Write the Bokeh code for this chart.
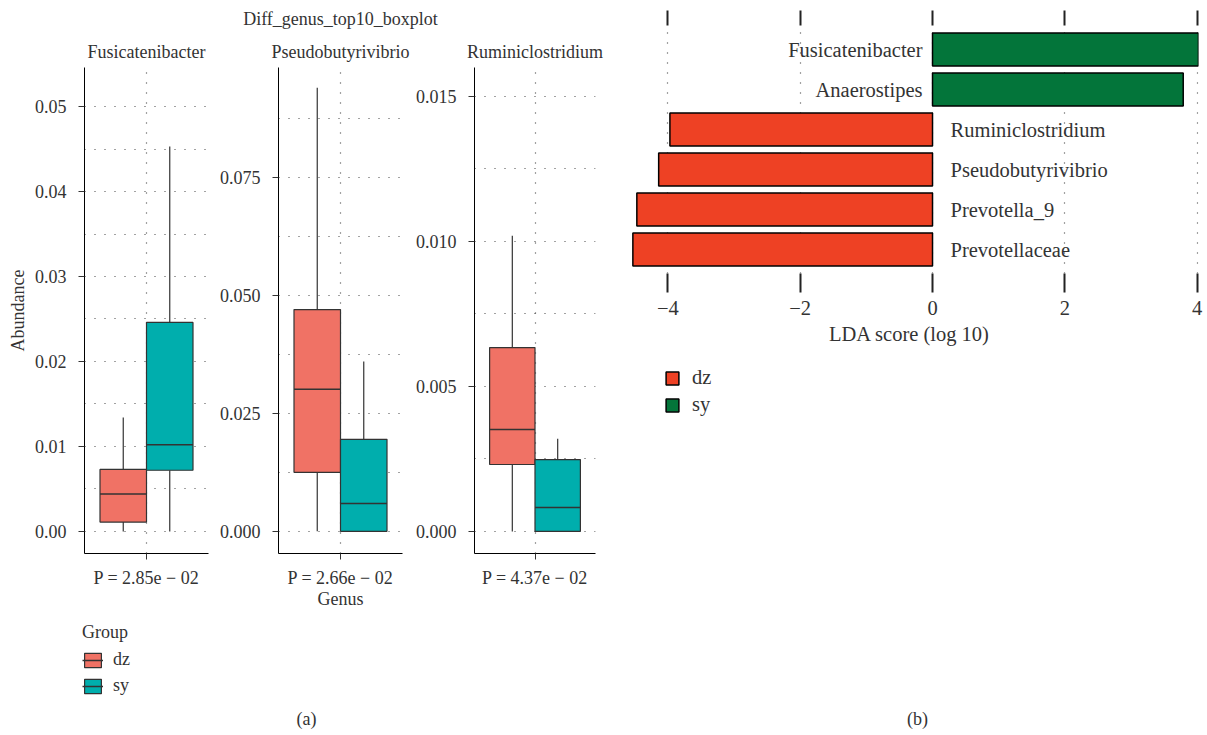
from bokeh.plotting import figure
from bokeh.models import (ColumnDataSource, Range1d, FixedTicker, PrintfTickFormatter,
                          Label, Legend, LegendItem, LinearAxis)
from bokeh.core.properties import value
from bokeh.transform import dodge
from bokeh.layouts import row, column
from bokeh.embed import file_html
from bokeh.resources import INLINE

FONT = "Liberation Serif"
NAN = float("nan")

# ---------------- data: panel (a) boxplots ----------------
main_title = "Diff_genus_top10_boxplot"
genera = ["Fusicatenibacter", "Pseudobutyrivibrio", "Ruminiclostridium"]
p_values = ["P = 2.85e \u2212 02", "P = 2.66e \u2212 02", "P = 4.37e \u2212 02"]
groups = ["dz", "sy"]
group_colors = ["#F07265", "#00AEAD"]

# [lower whisker, Q1, median, Q3, upper whisker] per genus
dz_stats = [
    [0.0, 0.0011, 0.0044, 0.0073, 0.0134],
    [0.0, 0.0125, 0.0301, 0.0470, 0.0940],
    [0.0, 0.00231, 0.00352, 0.00634, 0.0102],
]
sy_stats = [
    [0.0, 0.0072, 0.0102, 0.0246, 0.0453],
    [0.0, 0.0, 0.0059, 0.0195, 0.0360],
    [0.0, 0.0, 0.00083, 0.00248, 0.0032],
]

# axis ticks per panel
major_ticks = [
    [0.00, 0.01, 0.02, 0.03, 0.04, 0.05],
    [0.000, 0.025, 0.050, 0.075],
    [0.000, 0.005, 0.010, 0.015],
]
minor_ticks = [
    [0.005, 0.015, 0.025, 0.035, 0.045],
    [0.0125, 0.0375, 0.0625, 0.0875],
    [0.0025, 0.0075, 0.0125],
]
tick_formats = ["%.2f", "%.3f", "%.3f"]
y_limits = [(-0.0026, 0.0546), (-0.0047, 0.0983), (-0.00076, 0.0160)]

# ---------------- data: panel (b) LDA ----------------
lda_taxa = ["Fusicatenibacter", "Anaerostipes", "Ruminiclostridium",
            "Pseudobutyrivibrio", "Prevotella_9", "Prevotellaceae"]
lda_scores = [4.02, 3.79, -3.97, -4.14, -4.47, -4.53]
lda_groups = ["sy", "sy", "dz", "dz", "dz", "dz"]
lda_colors = {"dz": "#EE4124", "sy": "#03753A"}
lda_ticks = [-4, -2, 0, 2, 4]

GRID_COLOR = "#444444"
GRID_DASH = "1 9"
TEXT_COLOR = "#333333"

# layout geometry (pixels)
TITLE_H = 30
TOP_H = 590
widths = [212, 200, 198]
borders_left = [84, 66, 59]
borders_right = [4, 10, 15]


def box_panel(i):
    p = figure(width=widths[i], height=TOP_H, output_backend="svg", toolbar_location=None,
               x_range=Range1d(0.4, 1.6), y_range=Range1d(*y_limits[i]),
               min_border_left=borders_left[i], min_border_right=borders_right[i],
               min_border_top=37, min_border_bottom=67)
    p.outline_line_color = None
    p.background_fill_color = "white"
    p.border_fill_color = "white"
    p.title.text = genera[i]
    p.title.align = "center"
    p.title.text_font = FONT
    p.title.text_font_size = "18px"
    p.title.text_font_style = "normal"
    p.title.text_color = TEXT_COLOR
    p.title.standoff = 12

    for stats_all, col, off in [(dz_stats, group_colors[0], -0.225),
                                (sy_stats, group_colors[1], 0.225)]:
        s = stats_all[i]
        src = ColumnDataSource(dict(x=[1.0], lo=[s[0]], q1=[s[1]], med=[s[2]],
                                    q3=[s[3]], hi=[s[4]]))
        p.segment(x0=dodge("x", off), y0="lo", x1=dodge("x", off), y1="q1",
                  source=src, line_color="#333333", line_width=1.2)
        p.segment(x0=dodge("x", off), y0="q3", x1=dodge("x", off), y1="hi",
                  source=src, line_color="#333333", line_width=1.2)
        p.vbar(x=dodge("x", off), width=0.45, bottom="q1", top="q3",
               source=src, fill_color=col, line_color="#333333", line_width=1.2)
        p.segment(x0=dodge("x", off - 0.225), y0="med", x1=dodge("x", off + 0.225), y1="med",
                  source=src, line_color="#333333", line_width=1.5)

    # y axis
    p.yaxis.ticker = FixedTicker(ticks=major_ticks[i], minor_ticks=minor_ticks[i])
    p.yaxis.formatter = PrintfTickFormatter(format=tick_formats[i])
    p.yaxis.major_tick_out = 6
    p.yaxis.major_tick_in = 0
    p.yaxis.minor_tick_out = 0
    p.yaxis.minor_tick_in = 0
    p.yaxis.major_label_standoff = 12
    p.yaxis.major_label_text_font = FONT
    p.yaxis.major_label_text_font_size = "18px"
    p.yaxis.major_label_text_color = TEXT_COLOR
    p.yaxis.axis_line_color = "black"
    p.yaxis.major_tick_line_color = "#333333"
    # x axis
    p.xaxis.ticker = FixedTicker(ticks=[1.0])
    p.xaxis.major_label_overrides = {1: p_values[i]}
    p.xaxis.major_tick_out = 6
    p.xaxis.major_tick_in = 0
    p.xaxis.minor_tick_out = 0
    p.xaxis.minor_tick_in = 0
    p.xaxis.major_label_standoff = 8
    p.xaxis.major_label_text_font = FONT
    p.xaxis.major_label_text_font_size = "18px"
    p.xaxis.major_label_text_color = TEXT_COLOR
    p.xaxis.axis_line_color = "black"
    p.xaxis.major_tick_line_color = "#333333"
    # grids
    p.xgrid.grid_line_color = GRID_COLOR
    p.xgrid.grid_line_dash = GRID_DASH
    p.xgrid.grid_line_width = 1.2
    p.ygrid.grid_line_color = GRID_COLOR
    p.ygrid.grid_line_dash = GRID_DASH
    p.ygrid.grid_line_width = 1.2
    p.ygrid.minor_grid_line_color = GRID_COLOR
    p.ygrid.minor_grid_line_dash = GRID_DASH
    p.ygrid.minor_grid_line_width = 1.2
    for ax in p.axis:
        ax.axis_label_text_font = FONT
        ax.axis_label_text_font_size = "18px"
        ax.axis_label_text_font_style = "normal"
        ax.axis_label_text_color = TEXT_COLOR
    return p


f1 = box_panel(0)
f1.yaxis.axis_label = "Abundance"
f1.yaxis.axis_label_standoff = 4
f2 = box_panel(1)
f2.xaxis.axis_label = "Genus"
f2.xaxis.axis_label_standoff = -2
f3 = box_panel(2)

# ---------------- overall title of panel (a) ----------------
titleFig = figure(width=sum(widths), height=TITLE_H, output_backend="svg", toolbar_location=None,
                  x_axis_location=None, y_axis_location=None, frame_align=False,
                  x_range=Range1d(0, sum(widths)), y_range=Range1d(TITLE_H, 0),
                  min_border=0)
titleFig.outline_line_color = None
titleFig.grid.visible = False
titleFig.add_layout(Label(x=340, y=18, text=main_title, text_align="center",
                          text_baseline="middle", text_font=FONT, text_font_size="18px",
                          text_color=TEXT_COLOR))

# ---------------- legend (a) ----------------
legA = figure(width=sum(widths), height=115, output_backend="svg", toolbar_location=None,
              x_axis_location=None, y_axis_location=None, frame_align=False,
              x_range=Range1d(82, 610), y_range=Range1d(735, 622),
              min_border_left=82, min_border_right=0, min_border_top=2, min_border_bottom=0)
legA.outline_line_color = None
legA.grid.visible = False
itemsA = []
for g, col in zip(groups, group_colors):
    proxy = ColumnDataSource(dict(x=[NAN], y0=[NAN], y1=[NAN]))
    r1 = legA.vbar(x="x", top="y1", bottom="y0", width=1, source=proxy,
                   fill_color=col, line_color="#333333", line_width=1.2)
    r2 = legA.segment(x0="x", y0="y0", x1="x", y1="y1", source=proxy,
                      line_color="#333333", line_width=1.5)
    itemsA.append(LegendItem(label=g, renderers=[r1, r2]))
legendA = Legend(items=itemsA, location="top_left", title="Group",
                 title_text_font=FONT, title_text_font_size="18px", title_text_font_style="normal",
                 title_text_color=TEXT_COLOR, title_standoff=6,
                 label_text_font=FONT, label_text_font_size="18px", label_text_color=TEXT_COLOR,
                 glyph_width=21, glyph_height=18, label_standoff=10, spacing=5,
                 padding=0, margin=0, border_line_color=None, background_fill_alpha=0)
legA.add_layout(legendA)
legA.add_layout(Label(x=306, y=718, text="(a)", text_align="center", text_baseline="middle",
                      text_font=FONT, text_font_size="18px", text_color=TEXT_COLOR))

# ---------------- panel (b) LDA bars ----------------
W4 = 597
f4 = figure(width=W4, height=350, output_backend="svg", toolbar_location=None,
            x_range=Range1d(-4.717, 4.021), y_range=Range1d(-0.6, len(lda_taxa) - 0.4),
            min_border_left=10, min_border_right=9, min_border_top=25, min_border_bottom=77,
            y_axis_location=None, frame_align=False)
f4.outline_line_color = None
n = len(lda_taxa)
src4 = ColumnDataSource(dict(
    y=[n - 1 - k for k in range(n)],
    score=lda_scores,
    taxon=lda_taxa,
    color=[lda_colors[g] for g in lda_groups],
    align=["right" if v > 0 else "left" for v in lda_scores],
    xoff=[-10 if v > 0 else 18 for v in lda_scores],
    zero=[0] * n,
))
f4.hbar(y="y", left="zero", right="score", height=0.82, source=src4,
        fill_color="color", line_color="black", line_width=1.5)
f4.text(x="zero", y="y", text="taxon", source=src4, text_align="align", x_offset="xoff",
        text_baseline="middle", text_font=value(FONT), text_font_size="20.5px",
        text_color=TEXT_COLOR)
f4.xaxis.ticker = FixedTicker(ticks=lda_ticks)
f4.xaxis.major_label_overrides = {t: (str(t).replace("-", "\u2212")) for t in lda_ticks}
f4.xaxis.axis_line_color = None
f4.xaxis.major_tick_out = 19
f4.xaxis.major_tick_in = 0
f4.xaxis.minor_tick_out = 0
f4.xaxis.minor_tick_in = 0
f4.xaxis.major_tick_line_width = 2
f4.xaxis.major_tick_line_color = "#222222"
f4.xaxis.major_label_standoff = 8
f4.xaxis.major_label_text_font = FONT
f4.xaxis.major_label_text_font_size = "20.5px"
f4.xaxis.major_label_text_color = TEXT_COLOR
f4.xaxis.axis_label = "LDA score (log 10)"
f4.xaxis.axis_label_text_font = FONT
f4.xaxis.axis_label_text_font_size = "20.5px"
f4.xaxis.axis_label_text_font_style = "normal"
f4.xaxis.axis_label_text_color = TEXT_COLOR
f4.xaxis.axis_label_standoff = 5
top_axis = LinearAxis(ticker=FixedTicker(ticks=lda_ticks), axis_line_color=None,
                      major_tick_out=15, major_tick_in=0, minor_tick_out=0, minor_tick_in=0,
                      major_tick_line_width=2, major_tick_line_color="#222222",
                      major_label_text_font_size="1px", major_label_text_color=None,
                      major_label_standoff=0)
f4.add_layout(top_axis, "above")
f4.xgrid.grid_line_color = GRID_COLOR
f4.xgrid.grid_line_dash = GRID_DASH
f4.xgrid.grid_line_width = 1.2
f4.ygrid.visible = False

# ---------------- legend (b) ----------------
legB = figure(width=W4, height=385, output_backend="svg", toolbar_location=None,
              x_axis_location=None, y_axis_location=None, frame_align=False,
              x_range=Range1d(664, 1207), y_range=Range1d(735, 366),
              min_border_left=54, min_border_right=0, min_border_top=16, min_border_bottom=0)
legB.outline_line_color = None
legB.grid.visible = False
itemsB = []
for g in groups:
    proxy = ColumnDataSource(dict(x=[NAN], y0=[NAN], y1=[NAN]))
    r = legB.vbar(x="x", top="y1", bottom="y0", width=1, source=proxy,
                  fill_color=lda_colors[g], line_color="black", line_width=1.5)
    itemsB.append(LegendItem(label=g, renderers=[r]))
legendB = Legend(items=itemsB, location="top_left",
                 label_text_font=FONT, label_text_font_size="20.5px", label_text_color=TEXT_COLOR,
                 glyph_width=16, glyph_height=16, label_standoff=12, spacing=4,
                 padding=0, margin=0, border_line_color=None, background_fill_alpha=0)
legB.add_layout(legendB)
legB.add_layout(Label(x=917, y=718, text="(b)", text_align="center", text_baseline="middle",
                      text_font=FONT, text_font_size="18px", text_color=TEXT_COLOR))

layout = row(column(titleFig, row(f1, f2, f3), legA), column(f4, legB))

open("out.html", "w").write(file_html(layout, INLINE))
